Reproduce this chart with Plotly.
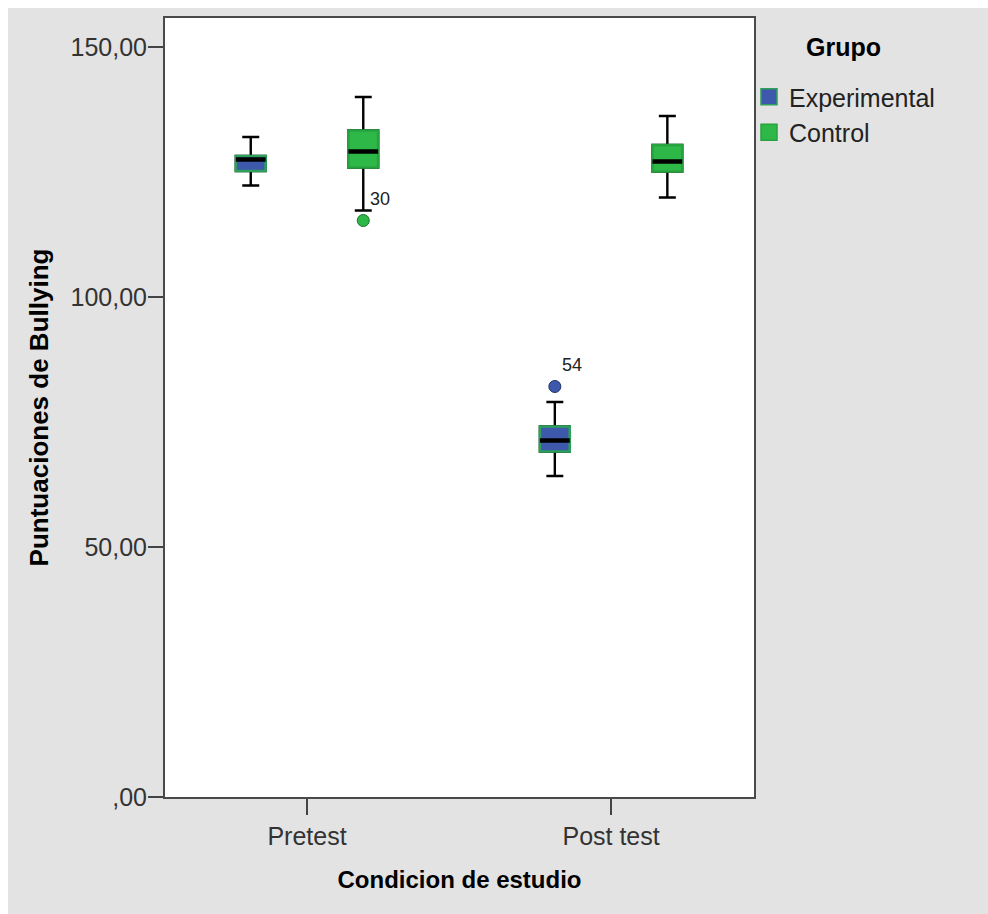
import plotly.graph_objects as go

# ---------------- data ----------------
conditions = ["Pretest", "Post test"]
groups = ["Experimental", "Control"]

exp_upper = [132.0, 79.0]
exp_q3 = [128.2, 74.1]
exp_median = [127.5, 71.3]
exp_q1 = [125.2, 69.1]
exp_lower = [122.3, 64.2]

ctl_upper = [140.0, 136.2]
ctl_q3 = [133.3, 130.4]
ctl_median = [129.1, 127.1]
ctl_q1 = [125.9, 125.1]
ctl_lower = [117.3, 119.9]

outlier_group = ["Control", "Experimental"]
outlier_condition = ["Pretest", "Post test"]
outlier_value = [115.3, 82.1]
outlier_label = ["30", "54"]

y_tickvals = [0, 50, 100, 150]
y_ticktext = [",00", "50,00", "100,00", "150,00"]

# ---------------- style ----------------
FONT = "Liberation Sans, Arial, sans-serif"
fill = {"Experimental": "#3E58AC", "Control": "#2EB848"}
edge = {"Experimental": "#2C9F58", "Control": "#27A23F"}
dot_edge = {"Experimental": "#1E2F66", "Control": "#17702A"}
offset = {"Experimental": -0.185, "Control": 0.185}
BOXW = 0.098

stats = {
    "Experimental": dict(upper=exp_upper, q3=exp_q3, med=exp_median, q1=exp_q1, lower=exp_lower),
    "Control": dict(upper=ctl_upper, q3=ctl_q3, med=ctl_median, q1=ctl_q1, lower=ctl_lower),
}

fig = go.Figure()

for g in groups:
    s = stats[g]
    pos = [i + offset[g] for i in range(len(conditions))]
    # whiskers + caps (black)
    fig.add_trace(go.Box(
        x=pos, q1=s["q1"], median=s["med"], q3=s["q3"],
        lowerfence=s["lower"], upperfence=s["upper"],
        width=BOXW, whiskerwidth=0.57, boxpoints=False,
        fillcolor=fill[g], line=dict(color="black", width=2.4),
        showlegend=False, hoverinfo="skip", name=g,
    ))
    # coloured box body with green edge
    fig.add_trace(go.Box(
        x=pos, q1=s["q1"], median=s["med"], q3=s["q3"],
        lowerfence=s["q1"], upperfence=s["q3"],
        width=BOXW, whiskerwidth=0, boxpoints=False,
        fillcolor=fill[g], line=dict(color=edge[g], width=2.6),
        showlegend=False, name=g,
    ))
    # thick black median
    mx, my = [], []
    for p, m in zip(pos, s["med"]):
        mx += [p - BOXW / 2, p + BOXW / 2, None]
        my += [m, m, None]
    fig.add_trace(go.Scatter(x=mx, y=my, mode="lines",
                             line=dict(color="black", width=4.5),
                             showlegend=False, hoverinfo="skip"))
    # legend entry
    fig.add_trace(go.Scatter(
        x=[None], y=[None], mode="markers", name=g,
        marker=dict(symbol="square", size=16, color=fill[g],
                    line=dict(color=edge[g], width=1.5)),
    ))

# outliers
for g in groups:
    ox = [conditions.index(c) + offset[g]
          for gg, c in zip(outlier_group, outlier_condition) if gg == g]
    oy = [v for gg, v in zip(outlier_group, outlier_value) if gg == g]
    fig.add_trace(go.Scatter(
        x=ox, y=oy, mode="markers", showlegend=False,
        marker=dict(symbol="circle", size=12, color=fill[g],
                    line=dict(color=dot_edge[g], width=1)),
    ))

# background: white page, grey panel, white plot area
L, R, T, B = 165, 234, 18, 117
W, H = 988, 914
pw, ph = W - L - R, H - T - B
def px_to_paper_x(px):
    return (px - L) / pw
def px_to_paper_y(py):
    return (H - B - py) / ph

annotations = []
for g, c, v, lab in zip(outlier_group, outlier_condition, outlier_value, outlier_label):
    annotations.append(dict(
        x=conditions.index(c) + offset[g], y=v, text=lab, showarrow=False,
        xanchor="left", yanchor="bottom", xshift=5, yshift=10,
        font=dict(family=FONT, size=18, color="#222222"),
    ))
# legend heading
annotations.append(dict(
    x=px_to_paper_x(843), y=px_to_paper_y(47), xref="paper", yref="paper",
    text="<b>Grupo</b>", showarrow=False, xanchor="center", yanchor="middle",
    font=dict(family=FONT, size=25, color="black"),
))

shapes = [
    dict(type="rect", xref="paper", yref="paper", layer="below",
         x0=px_to_paper_x(8), x1=px_to_paper_x(W + 5),
         y0=px_to_paper_y(H + 5), y1=px_to_paper_y(8),
         fillcolor="#E3E3E3", line=dict(width=0)),
    dict(type="rect", xref="paper", yref="paper", layer="below",
         x0=0, x1=1, y0=0, y1=1, fillcolor="white", line=dict(width=0)),
]

fig.update_layout(
    width=W, height=H, autosize=False,
    margin=dict(l=L, r=R, t=T, b=B, pad=0),
    paper_bgcolor="white", plot_bgcolor="white",
    boxmode="overlay",
    font=dict(family=FONT, size=25, color="#333333"),
    shapes=shapes, annotations=annotations,
    legend=dict(
        x=px_to_paper_x(749), y=px_to_paper_y(74), xanchor="left", yanchor="top",
        bgcolor="rgba(0,0,0,0)", borderwidth=0, tracegroupgap=0,
        font=dict(family=FONT, size=25, color="#222222"),
        itemclick=False, itemdoubleclick=False,
    ),
)

fig.update_xaxes(
    range=[-0.467, 1.470], tickvals=list(range(len(conditions))), ticktext=conditions,
    ticks="outside", ticklen=16, tickwidth=2, tickcolor="#444444",
    showgrid=False, zeroline=False, showline=True, linecolor="#4A4A4A", linewidth=2,
    mirror=True, automargin=False,
    tickfont=dict(family=FONT, size=25, color="#333333"),
    title=dict(text="<b>Condicion de estudio</b>", standoff=22,
               font=dict(family=FONT, size=24, color="black")),
)
fig.update_yaxes(
    range=[0, 155.8], tickvals=y_tickvals, ticktext=y_ticktext,
    ticks="outside", ticklen=15, tickwidth=2, tickcolor="#444444",
    showgrid=False, zeroline=False, showline=True, linecolor="#4A4A4A", linewidth=2,
    mirror=True, automargin=False, ticklabelstandoff=-4,
    tickfont=dict(family=FONT, size=25, color="#333333"),
    title=dict(text="<b>Puntuaciones de Bullying</b>", standoff=14,
               font=dict(family=FONT, size=26, color="black")),
)

fig.write_html("out.html")
